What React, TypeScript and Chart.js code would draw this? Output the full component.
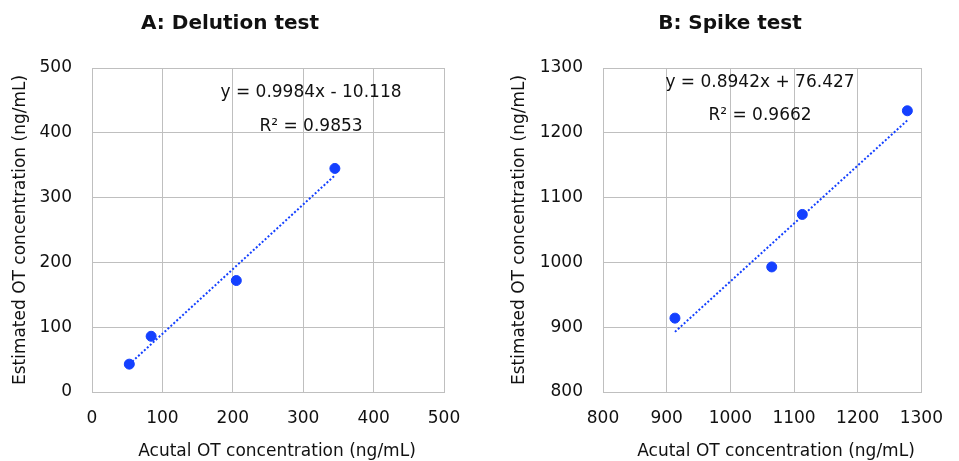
import React, { useEffect, useRef } from "react";
import { Chart, registerables } from "chart.js";

Chart.register(...registerables);

// ---- Data ----
const delutionActual = [53, 84, 205, 345];
const delutionEstimated = [43, 86, 172, 345];
const delutionTrendX = [53, 345];
const delutionTrendY = [42.8, 334.3];
const delutionEquation = "y = 0.9984x - 10.118";
const delutionR2 = "R² = 0.9853";

const spikeActual = [913, 1065, 1113, 1278];
const spikeEstimated = [914, 993, 1074, 1234];
const spikeTrendX = [913, 1278];
const spikeTrendY = [892.8, 1219.2];
const spikeEquation = "y = 0.8942x + 76.427";
const spikeR2 = "R² = 0.9662";

const xAxisTitle = "Acutal OT concentration (ng/mL)";
const yAxisTitle = "Estimated OT concentration (ng/mL)";

const FONT = "'DejaVu Sans', Verdana, sans-serif";
const BLUE = "#1440ff";
const GRID = "#bfbfbf";
const TEXT = "#111111";

type Cfg = {
  title: string;
  titleX: number;
  xs: number[];
  ys: number[];
  tx: number[];
  ty: number[];
  eq: string;
  r2: string;
  annX: number;
  eqY: number;
  r2Y: number;
  min: number;
  max: number;
  yWidth: number;
  padRight: number;
  yTitleX: number;
  xTitleX: number;
};

function makeChart(canvas: HTMLCanvasElement, c: Cfg) {
  const textPlugin = {
    id: "texts",
    afterDraw(chart: any) {
      const ctx = chart.ctx as CanvasRenderingContext2D;
      const area = chart.chartArea;
      ctx.save();
      ctx.fillStyle = TEXT;
      ctx.textAlign = "center";
      ctx.textBaseline = "middle";
      ctx.font = `bold 20px ${FONT}`;
      ctx.fillText(c.title, c.titleX, 24);
      ctx.font = `17px ${FONT}`;
      ctx.fillText(c.eq, c.annX, c.eqY);
      ctx.fillText(c.r2, c.annX, c.r2Y);
      ctx.fillText(xAxisTitle, c.xTitleX, 452);
      ctx.translate(c.yTitleX, (area.top + area.bottom) / 2);
      ctx.rotate(-Math.PI / 2);
      ctx.fillText(yAxisTitle, 0, 0);
      ctx.restore();
    },
  };

  const tickFont = { family: FONT, size: 17 };
  const plain = (v: any) => String(v);
  return new Chart(canvas, {
    type: "scatter",
    data: {
      datasets: [
        {
          label: "trend",
          data: c.tx.map((x, i) => ({ x, y: c.ty[i] })),
          showLine: true,
          borderColor: BLUE,
          borderWidth: 2,
          borderDash: [2, 2],
          pointRadius: 0,
          fill: false,
        },
        {
          label: "data",
          data: c.xs.map((x, i) => ({ x, y: c.ys[i] })),
          backgroundColor: BLUE,
          borderColor: BLUE,
          pointRadius: 5,
          pointHoverRadius: 5,
          showLine: false,
        },
      ],
    },
    options: {
      animation: false,
      responsive: false,
      maintainAspectRatio: false,
      layout: { padding: { top: 68, right: c.padRight, left: 0, bottom: 0 } },
      plugins: {
        legend: { display: false },
        title: { display: false },
        tooltip: { enabled: false },
      },
      scales: {
        x: {
          type: "linear",
          min: c.min,
          max: c.max,
          ticks: { stepSize: 100, font: tickFont, color: TEXT, padding: 16, maxRotation: 0, callback: plain },
          grid: { color: GRID, lineWidth: 1, drawTicks: false },
          border: { color: GRID, width: 1 },
          afterFit: (s: any) => {
            s.height = 69;
          },
        },
        y: {
          type: "linear",
          min: c.min,
          max: c.max,
          ticks: { stepSize: 100, font: tickFont, color: TEXT, padding: 20, callback: plain },
          grid: { color: GRID, lineWidth: 1, drawTicks: false },
          border: { color: GRID, width: 1 },
          afterFit: (s: any) => {
            s.width = c.yWidth;
          },
        },
      },
    },
    plugins: [textPlugin],
  });
}

export default function App() {
  const refA = useRef<HTMLCanvasElement>(null);
  const refB = useRef<HTMLCanvasElement>(null);

  useEffect(() => {
    const a = makeChart(refA.current!, {
      title: "A: Delution test",
      titleX: 230,
      xs: delutionActual,
      ys: delutionEstimated,
      tx: delutionTrendX,
      ty: delutionTrendY,
      eq: delutionEquation,
      r2: delutionR2,
      annX: 311,
      eqY: 93,
      r2Y: 127,
      min: 0,
      max: 500,
      yWidth: 92,
      padRight: 36,
      yTitleX: 21,
      xTitleX: 277,
    });
    const b = makeChart(refB.current!, {
      title: "B: Spike test",
      titleX: 250,
      xs: spikeActual,
      ys: spikeEstimated,
      tx: spikeTrendX,
      ty: spikeTrendY,
      eq: spikeEquation,
      r2: spikeR2,
      annX: 280,
      eqY: 83,
      r2Y: 116,
      min: 800,
      max: 1300,
      yWidth: 123,
      padRight: 21,
      yTitleX: 40,
      xTitleX: 296,
    });
    return () => {
      a.destroy();
      b.destroy();
    };
  }, []);

  return (
    <div style={{ position: "fixed", left: 0, top: 0, width: 959, height: 461, background: "#fff" }}>
      <canvas ref={refA} width={480} height={461} style={{ position: "absolute", left: 0, top: 0 }} />
      <canvas ref={refB} width={479} height={461} style={{ position: "absolute", left: 480, top: 0 }} />
    </div>
  );
}
